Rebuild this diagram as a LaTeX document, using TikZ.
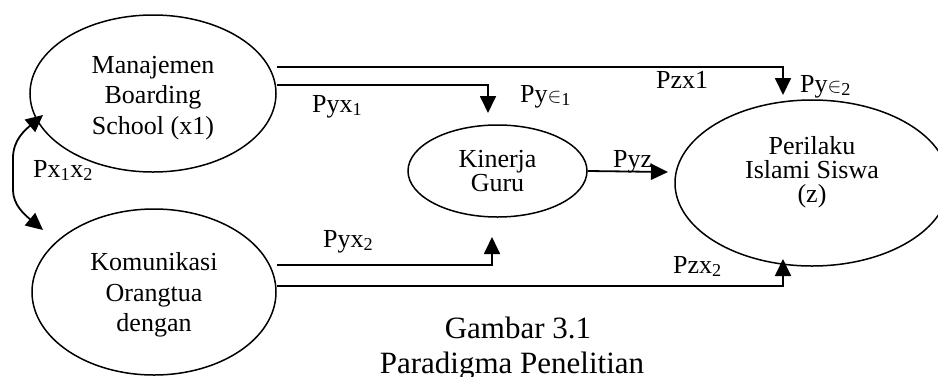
\documentclass[tikz,border=0pt]{standalone}
\usepackage{fontspec}
\setmainfont{Liberation Serif}
\usetikzlibrary{shapes.geometric,arrows.meta}
\begin{document}
\begin{tikzpicture}[x=1pt,y=-1pt,
  oval/.style={ellipse, draw, line width=1.5pt, inner sep=0pt},
  txtwide/.style={align=center, inner sep=0pt, font=\fontsize{26}{30.5}\selectfont},
  txtnarrow/.style={align=center, inner sep=0pt, font=\fontsize{26}{24}\selectfont},
  lbl/.style={anchor=base west, inner sep=0pt, font=\fontsize{26}{26}\selectfont},
  capt/.style={anchor=base, inner sep=0pt, font=\fontsize{31}{31}\selectfont},
  tip/.tip={Triangle[length=17pt,width=16pt]},
  link/.style={line width=1.8pt, -tip},
  bilink/.style={line width=1.8pt, tip-tip}]
\useasboundingbox (0,0) rectangle (938,376);
\clip (0,0) rectangle (938,376);

% variables
\node[oval, minimum width=246pt, minimum height=157pt] (m) at (153,93.5) {};
\node[txtwide] at (153,98) {Manajemen\\Boarding\\School (x1)};
\node[oval, minimum width=244pt, minimum height=166pt] (o) at (154,292) {};
\node[txtwide] at (154,295) {Komunikasi\\Orangtua\\dengan};
\node[oval, minimum width=179pt, minimum height=92pt] (k) at (497.5,171) {};
\node[txtnarrow] at (497.5,171) {Kinerja\\Guru};
\node[oval, minimum width=274pt, minimum height=166pt] (z) at (812,183) {};
\node[txtnarrow] at (812,172.5) {Perilaku\\Islami Siswa\\(z)};

% arrow end points
\coordinate (a1) at (783,95);
\coordinate (a2) at (488,113);
\coordinate (a3) at (668,172);
\coordinate (a4) at (492,237);
\coordinate (a5) at (783,259);
\coordinate (c1) at (43,115);
\coordinate (c2) at (43,230);

% paths
\draw[link] (m.east |- 0,67) -| (a1);
\draw[link] (m.east |- 0,85) -| (a2);
\draw[link] (k.east) -- (a3);
\draw[link] (o.east |- 0,265) -| (a4);
\draw[link] (o.east |- 0,286) -| (a5);
\draw[bilink] (c1) .. controls (25,130) and (13,140) .. (13,158)
  -- (13,190) .. controls (13,205) and (25,215) .. (c2);

% coefficients
\node[lbl] at (312,112) {Pyx\textsubscript{1}};
\node[lbl] at (520,102) {Py{\fontsize{20}{20}\selectfont$\in$}\textsubscript{1}};
\node[lbl] at (656,88) {Pzx1};
\node[lbl] at (800,92) {Py{\fontsize{20}{20}\selectfont$\in$}\textsubscript{2}};
\node[lbl] at (613,167) {Pyz};
\node[lbl] at (33,177) {Px\textsubscript{1}x\textsubscript{2}};
\node[lbl] at (323,247) {Pyx\textsubscript{2}};
\node[lbl] at (673,273) {Pzx\textsubscript{2}};

% caption
\node[capt] at (518,338) {Gambar 3.1};
\node[capt] at (512,373) {Paradigma Penelitian};
\end{tikzpicture}
\end{document}
